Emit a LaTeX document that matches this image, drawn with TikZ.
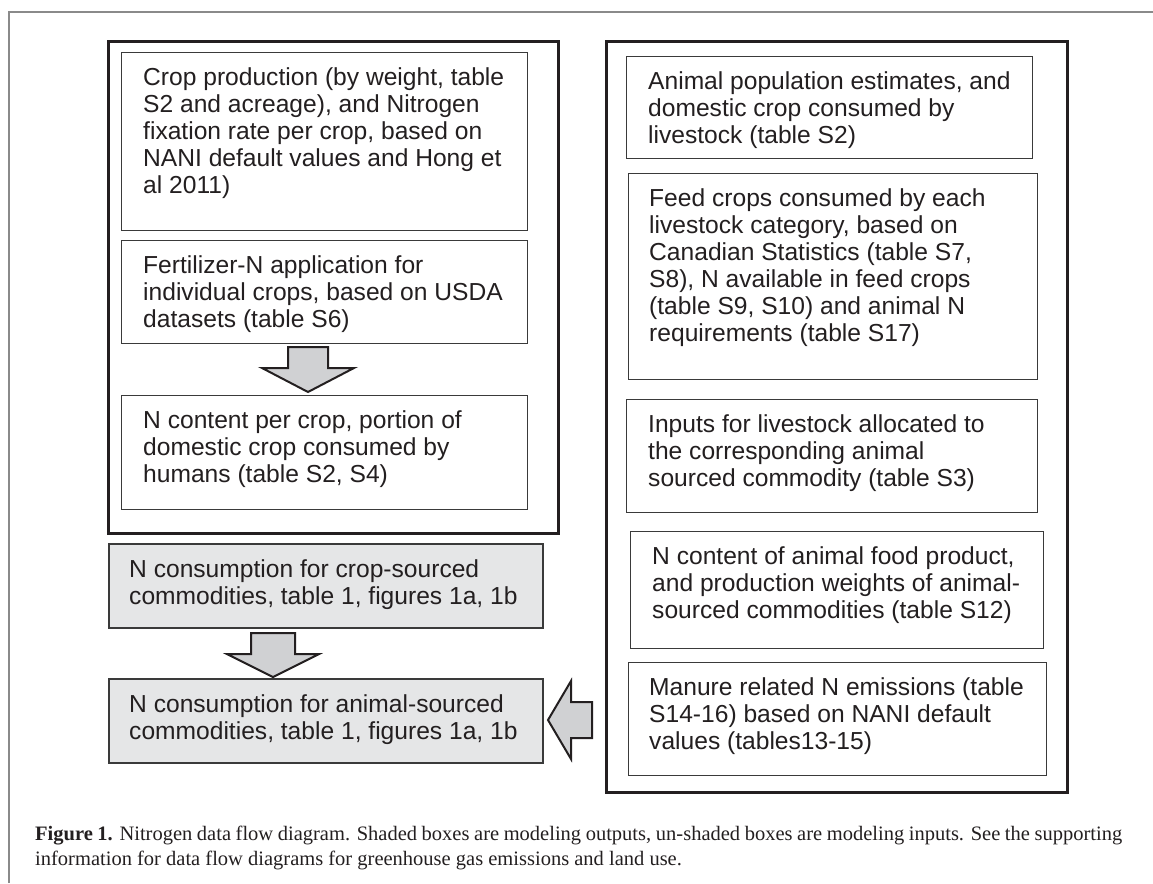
\documentclass[tikz,border=0pt]{standalone}
\usepackage{fontspec}
\setmainfont{Liberation Sans}
\newfontfamily\capfont{Liberation Serif}
\definecolor{framecol}{HTML}{231F20}
\definecolor{boxcol}{HTML}{3A3A3A}
\definecolor{shade}{HTML}{E5E6E7}
\definecolor{arrowfill}{HTML}{D0D1D3}
\definecolor{framegray}{HTML}{8A8A8A}
\definecolor{txtcol}{HTML}{231F20}
\tikzset{
 bigbox/.style={draw=framecol, line width=3pt, anchor=north west, inner sep=0pt},
 inbox/.style={draw=boxcol, line width=1.3pt, anchor=north west, inner sep=0pt},
 outbox/.style={draw=boxcol, line width=1.5pt, fill=shade, anchor=north west, inner sep=0pt},
 txt/.style={anchor=north west, inner sep=0pt, align=left, font=\fontsize{24.6}{27}\selectfont, text=txtcol},
 blockarrow/.style={draw=framecol, line width=2pt, fill=arrowfill, line join=miter},
 captxt/.style={anchor=base west, inner sep=0pt, text=txtcol, font=\capfont\fontsize{20.5}{25}\selectfont},
}
\begin{document}
\begin{tikzpicture}[x=1pt,y=-1pt]
\useasboundingbox (0,0) rectangle (1153,883);
\fill[white] (0,0) rectangle (1153,883);
% outer frame
\draw[framegray, line width=2pt] (9,883) -- (9,12) -- (1153,12);

% left column
\node[bigbox, minimum width=450, minimum height=492] (LB) at (107,40) {};
\node[inbox, minimum width=406, minimum height=178] (L1) at (121,52) {};
\node[txt] (L1t) at ([xshift=22pt,yshift=-14.1pt]L1.north west) {\strut Crop production (by weight, table\\S2 and acreage), and Nitrogen\\fixation rate per crop, based on\\NANI default values and Hong et\\al 2011)};
\node[inbox, minimum width=406, minimum height=103] (L2) at (121,240) {};
\node[txt] (L2t) at ([xshift=22pt,yshift=-14.1pt]L2.north west) {\strut Fertilizer-N application for\\individual crops, based on USDA\\datasets (table S6)};
\node[inbox, minimum width=406, minimum height=114] (L3) at (121,395) {};
\node[txt] (L3t) at ([xshift=22pt,yshift=-14.1pt]L3.north west) {\strut N content per crop, portion of\\domestic crop consumed by\\humans (table S2, S4)};
\coordinate (a1) at (308,392);
\draw[blockarrow] (a1) -- ++(-46,-24) -- ++(26,0) -- ++(0,-21) -- ++(40,0) -- ++(0,21) -- ++(26,0) -- cycle;

\node[outbox, minimum width=434, minimum height=84] (S1) at (108,543) {};
\node[txt] (S1t) at ([xshift=21pt,yshift=-15.1pt]S1.north west) {\strut N consumption for crop-sourced\\commodities, table 1, figures 1a, 1b};
\coordinate (a2) at (273,677);
\draw[blockarrow] (a2) -- ++(-46,-23) -- ++(24,0) -- ++(0,-21) -- ++(44,0) -- ++(0,21) -- ++(24,0) -- cycle;
\node[outbox, minimum width=434, minimum height=84] (S2) at (108,678) {};
\node[txt] (S2t) at ([xshift=21pt,yshift=-15.1pt]S2.north west) {\strut N consumption for animal-sourced\\commodities, table 1, figures 1a, 1b};

% right column
\node[bigbox, minimum width=461, minimum height=751] (RB) at (605,40) {};
\node[inbox, minimum width=406, minimum height=102] (R1) at (626,56) {};
\node[txt] (R1t) at ([xshift=22pt,yshift=-14.1pt]R1.north west) {\strut Animal population estimates, and\\domestic crop consumed by\\livestock (table S2)};
\node[inbox, minimum width=409, minimum height=206] (R2) at (628,173) {};
\node[txt] (R2t) at ([xshift=21pt,yshift=-14.1pt]R2.north west) {\strut Feed crops consumed by each\\livestock category, based on\\Canadian Statistics (table S7,\\S8), N available in feed crops\\(table S9, S10) and animal N\\requirements (table S17)};
\node[inbox, minimum width=411, minimum height=113] (R3) at (626,399) {};
\node[txt] (R3t) at ([xshift=22pt,yshift=-14.1pt]R3.north west) {\strut Inputs for livestock allocated to\\the corresponding animal\\sourced commodity (table S3)};
\node[inbox, minimum width=413, minimum height=117] (R4) at (630,531) {};
\node[txt] (R4t) at ([xshift=22pt,yshift=-14.1pt]R4.north west) {\strut N content of animal food product,\\and production weights of animal-\\sourced commodities (table S12)};
\node[inbox, minimum width=418, minimum height=113] (R5) at (628,662) {};
\node[txt] (R5t) at ([xshift=21pt,yshift=-14.1pt]R5.north west) {\strut Manure related N emissions (table\\S14-16) based on NANI default\\values (tables13-15)};
\coordinate (a3) at (548,720);
\draw[blockarrow] (a3) -- ++(23,-39) -- ++(0,21) -- ++(21,0) -- ++(0,36) -- ++(-21,0) -- ++(0,21) -- cycle;

% caption
\node[captxt] (cap1) at (35,840) {\makebox[1087pt][s]{\textbf{Figure 1.} Nitrogen data flow diagram. Shaded boxes are modeling outputs, un-shaded boxes are modeling inputs. See the supporting}};
\node[captxt] (cap2) at (35,865) {information for data flow diagrams for greenhouse gas emissions and land use.};
\end{tikzpicture}
\end{document}
